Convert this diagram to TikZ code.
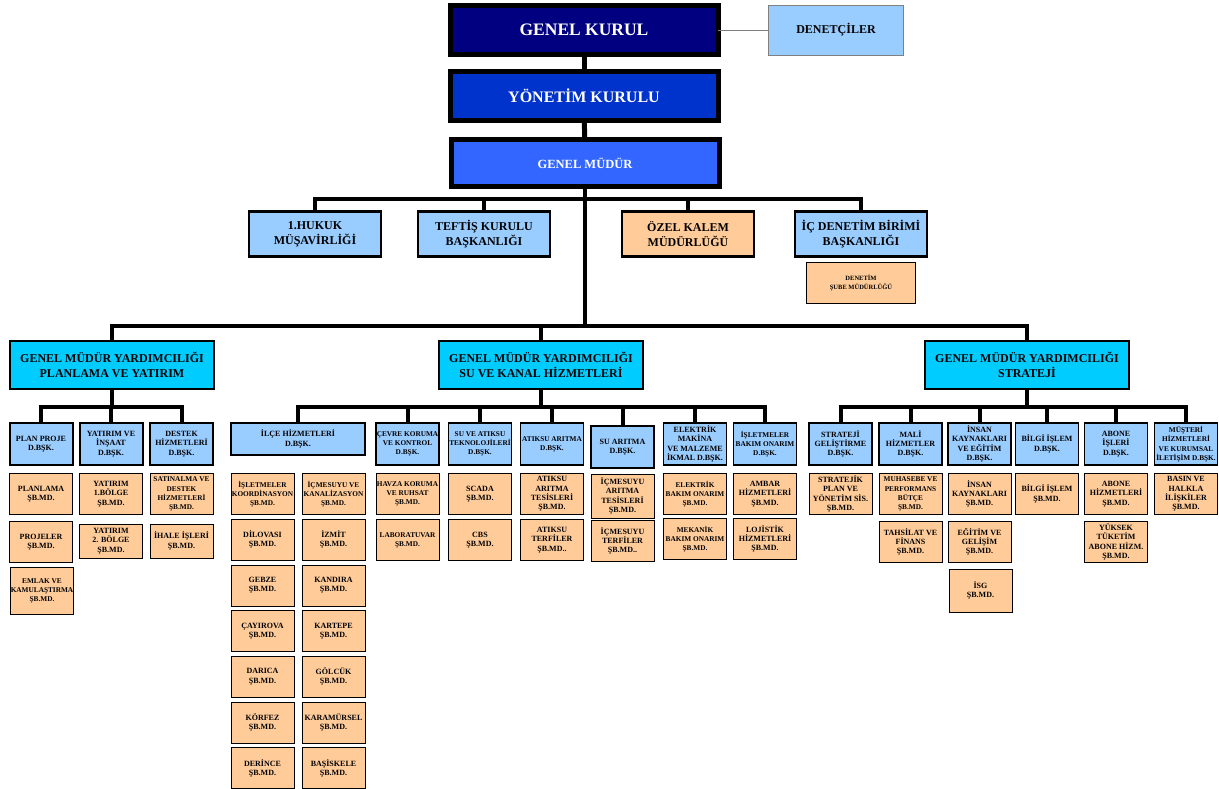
\documentclass[tikz,border=0pt]{standalone}
\usepackage{fontspec}
\setmainfont{Liberation Serif}
\definecolor{kurul}{HTML}{000080}
\definecolor{yonetim}{HTML}{0033CC}
\definecolor{mudur}{HTML}{3366FF}
\definecolor{lblue}{HTML}{99CCFF}
\definecolor{peach}{HTML}{FFCC99}
\definecolor{gmycyan}{HTML}{00CCFF}
\begin{document}
\begin{tikzpicture}[
			x=1pt, y=-1pt,
			every node/.style={
				align=center,
				inner sep=1pt,
				outer sep=0pt
			},
			topbox/.style={
				draw,
				line width=5pt,
				text=white,
				minimum width=268,
				minimum height=49,
				font=\bfseries\fontsize{16}{18}\selectfont
			},
			unit/.style={
				draw,
				line width=2.5pt,
				fill=lblue,
				minimum width=132,
				minimum height=45,
				font=\bfseries\fontsize{12}{15}\selectfont
			},
			gmy/.style={
				draw,
				line width=2.5pt,
				fill=gmycyan,
				minimum width=204,
				minimum height=48,
				font=\bfseries\fontsize{12}{15}\selectfont
			},
			dbsk/.style={
				draw,
				line width=1.2pt,
				fill=lblue,
				minimum width=63,
				minimum height=42,
				font=\bfseries\fontsize{8}{9.3}\selectfont
			},
			sube/.style={
				draw,
				line width=0.8pt,
				fill=peach,
				minimum width=63,
				minimum height=41,
				font=\bfseries\fontsize{8}{9.3}\selectfont
			},
			tight/.style={
				inner sep=0pt,
				font=\bfseries\fontsize{7.3}{9.3}\selectfont
			},
			link/.style={
				line width=4pt
			}
		]
		\useasboundingbox (0,0) rectangle (1219,789);

		% ust yonetim
		\node [topbox, fill=kurul, font=\bfseries\fontsize{17.5}{20}\selectfont] (gk) at (584,30) {GENEL KURUL};
		\node [draw=gray, line width=0.8pt, fill=lblue, minimum width=135, minimum height=50,
			font=\bfseries\fontsize{12}{14}\selectfont] (den) at (836,30) {DENETÇİLER};
		\node [topbox, fill=yonetim] (yk) at (584,96) {YÖNETİM KURULU};
		\node [topbox, fill=mudur, minimum height=47, font=\bfseries\fontsize{12.5}{14}\selectfont] (gm) at (585,163) {GENEL MÜDÜR};

		\node [unit] (hukuk) at (315,234) {1.HUKUK\\MÜŞAVİRLİĞİ};
		\node [unit] (teftis) at (484,234) {TEFTİŞ KURULU\\BAŞKANLIĞI};
		\node [unit, fill=peach] (ozel) at (688,234) {ÖZEL KALEM\\MÜDÜRLÜĞÜ};
		\node [unit] (icden) at (861,234) {İÇ DENETİM BİRİMİ\\BAŞKANLIĞI};
		\node [sube, minimum width=109, font=\bfseries\fontsize{6.5}{9}\selectfont] (densube) at (861,283) {DENETİM\\ŞUBE MÜDÜRLÜĞÜ};

		\node [gmy] (gmy1) at (112,365) {GENEL MÜDÜR YARDIMCILIĞI\\PLANLAMA VE YATIRIM};
		\node [gmy] (gmy2) at (541,365) {GENEL MÜDÜR YARDIMCILIĞI\\SU VE KANAL HİZMETLERİ};
		\node [gmy] (gmy3) at (1027,365) {GENEL MÜDÜR YARDIMCILIĞI\\STRATEJİ};

		% planlama ve yatirim
		\node [dbsk, line width=2pt] (plpr) at (41,444) {PLAN PROJE\\D.BŞK.};
		\node [dbsk, line width=2pt] (yatins) at (111,444) {YATIRIM VE\\İNŞAAT\\D.BŞK.};
		\node [dbsk] (destek) at (181.5,444) {DESTEK\\HİZMETLERİ\\D.BŞK.};
		\node [sube] (planlama) at (41,494) {PLANLAMA\\ŞB.MD.};
		\node [sube] (projeler) at (41,542) {PROJELER\\ŞB.MD.};
		\node [sube, tight, minimum height=47] (emlak) at (42,591) {EMLAK VE\\KAMULAŞTIRMA\\ŞB.MD.};
		\node [sube] (yat1) at (111,494) {YATIRIM\\1.BÖLGE\\ŞB.MD.};
		\node [sube, minimum height=34] (yat2) at (111,541) {YATIRIM\\2. BÖLGE\\ŞB.MD.};
		\node [sube, tight] (satin) at (181.5,494) {SATINALMA VE\\DESTEK\\HİZMETLERİ\\ŞB.MD.};
		\node [sube, minimum height=34] (ihale) at (181.5,541) {İHALE İŞLERİ\\ŞB.MD.};

		% su ve kanal hizmetleri
		\node [dbsk, minimum width=134, minimum height=32] (ilce) at (298,439) {İLÇE HİZMETLERİ\\D.BŞK.};
		\node [sube, tight] (ilcel0) at (262.5,494) {İŞLETMELER\\KOORDİNASYON\\ŞB.MD.};
		\node [sube, tight] (ilcer0) at (333.5,494) {İÇMESUYU VE\\KANALİZASYON\\ŞB.MD.};
		\foreach \lt/\rt [count=\i] in {DİLOVASI/İZMİT, GEBZE/KANDIRA, ÇAYIROVA/KARTEPE,
			DARICA/GÖLCÜK, KÖRFEZ/KARAMÜRSEL, DERİNCE/BAŞİSKELE}{%
			\node [sube] (ilcel\i) at (262.5,{494+45.7*\i}) {\lt\\ŞB.MD.};
			\node [sube] (ilcer\i) at (333.5,{494+45.7*\i}) {\rt\\ŞB.MD.};
		}
		\node [dbsk, tight, line width=1.6pt] (cevre) at (407.5,444) {ÇEVRE KORUMA\\VE KONTROL\\D.BŞK.};
		\node [dbsk, tight] (suatik) at (480,444) {SU VE ATIKSU\\TEKNOLOJİLERİ\\D.BŞK.};
		\node [dbsk, tight, line width=1.6pt] (atikar) at (552,444) {ATIKSU ARITMA\\D.BŞK.};
		\node [dbsk, line width=1.6pt] (suar) at (622.5,447) {SU ARITMA\\D.BŞK.};
		\node [dbsk] (elek) at (695,444) {ELEKTRİK\\MAKİNA\\VE MALZEME\\İKMAL D.BŞK.};
		\node [dbsk, tight] (isbak) at (765,444) {İŞLETMELER\\BAKIM ONARIM\\D.BŞK.};
		\node [sube, tight] (havza) at (407.5,494) {HAVZA KORUMA\\VE RUHSAT\\ŞB.MD.};
		\node [sube, tight] (lab) at (407.5,540) {LABORATUVAR\\ŞB.MD.};
		\node [sube] (scada) at (480,494) {SCADA\\ŞB.MD.};
		\node [sube] (cbs) at (480,540) {CBS\\ŞB.MD.};
		\node [sube] (attes) at (552,494) {ATIKSU\\ARITMA\\TESİSLERİ\\ŞB.MD.};
		\node [sube] (atter) at (552,540) {ATIKSU\\TERFİLER\\ŞB.MD..};
		\node [sube, minimum height=44] (ictes) at (622.5,496) {İÇMESUYU\\ARITMA\\TESİSLERİ\\ŞB.MD.};
		\node [sube] (icter) at (622.5,541) {İÇMESUYU\\TERFİLER\\ŞB.MD..};
		\node [sube, tight] (elbak) at (695,494) {ELEKTRİK\\BAKIM ONARIM\\ŞB.MD.};
		\node [sube, tight] (mekbak) at (695,539) {MEKANİK\\BAKIM ONARIM\\ŞB.MD.};
		\node [sube] (ambar) at (765,494) {AMBAR\\HİZMETLERİ\\ŞB.MD.};
		\node [sube] (lojis) at (765,539) {LOJİSTİK\\HİZMETLERİ\\ŞB.MD.};

		% strateji
		\node [dbsk] (strgel) at (840.5,444) {STRATEJİ\\GELİŞTİRME\\D.BŞK.};
		\node [dbsk] (mali) at (910.5,444) {MALİ\\HİZMETLER\\D.BŞK.};
		\node [dbsk, line width=1.6pt] (ik) at (979.5,444) {İNSAN\\KAYNAKLARI\\VE EĞİTİM\\D.BŞK.};
		\node [dbsk, line width=1.6pt] (bilgi) at (1047,444) {BİLGİ İŞLEM\\D.BŞK.};
		\node [dbsk] (abone) at (1116,444) {ABONE\\İŞLERİ\\D.BŞK.};
		\node [dbsk, tight] (must) at (1186,444) {MÜŞTERİ\\HİZMETLERİ\\VE KURUMSAL\\İLETİŞİM D.BŞK.};
		\node [sube] (stplan) at (840.5,494) {STRATEJİK\\PLAN VE\\YÖNETİM SİS.\\ŞB.MD.};
		\node [sube, tight] (muhas) at (910.5,494) {MUHASEBE VE\\PERFORMANS\\BÜTÇE\\ŞB.MD.};
		\node [sube] (tahsil) at (910.5,542) {TAHSİLAT VE\\FİNANS\\ŞB.MD.};
		\node [sube] (iksb) at (979.5,494) {İNSAN\\KAYNAKLARI\\ŞB.MD.};
		\node [sube] (egitim) at (979.5,542) {EĞİTİM VE\\GELİŞİM\\ŞB.MD.};
		\node [sube, minimum height=43] (isg) at (980.5,590.5) {İSG\\ŞB.MD.};
		\node [sube] (bilgisb) at (1047,494) {BİLGİ İŞLEM\\ŞB.MD.};
		\node [sube] (abhiz) at (1116,494) {ABONE\\HİZMETLERİ\\ŞB.MD.};
		\node [sube] (yuksek) at (1116,542) {YÜKSEK\\TÜKETİM\\ABONE HİZM.\\ŞB.MD.};
		\node [sube] (basin) at (1186,494) {BASIN VE\\HALKLA\\İLİŞKİLER\\ŞB.MD.};

		% baglantilar
		\draw [link, line width=5pt] (gk) -- (yk);
		\draw [link, line width=5pt] (yk) -- (gm);
		\draw [gray, line width=0.8pt] (gk) -- (den);
		\coordinate (j0) at (gm.south |- 0,199);
		\coordinate (j1) at (gm.south |- 0,326);
		\draw [link] (gm.south) -- (j1);
		\foreach \c in {hukuk,teftis,ozel,icden}
			\draw [link] (j0) -| (\c.north);
		\foreach \c in {gmy1,gmy2,gmy3}
			\draw [link] (j1) -| (\c.north);

		\coordinate (b1) at (gmy1.south |- 0,407);
		\coordinate (b2) at (gmy2.south |- 0,407);
		\coordinate (b3) at (gmy3.south |- 0,407);
		\draw [link] (gmy1.south) -- (b1);
		\draw [link] (gmy2.south) -- (b2);
		\draw [link] (gmy3.south) -- (b3);
		\foreach \c in {plpr,yatins,destek}
			\draw [link] (b1) -| (\c.north);
		\foreach \c in {ilce,cevre,suatik,atikar,suar,elek,isbak}
			\draw [link] (b2) -| (\c.north);
		\foreach \c in {strgel,mali,ik,bilgi,abone,must}
			\draw [link] (b3) -| (\c.north);

	\end{tikzpicture}
\end{document}
